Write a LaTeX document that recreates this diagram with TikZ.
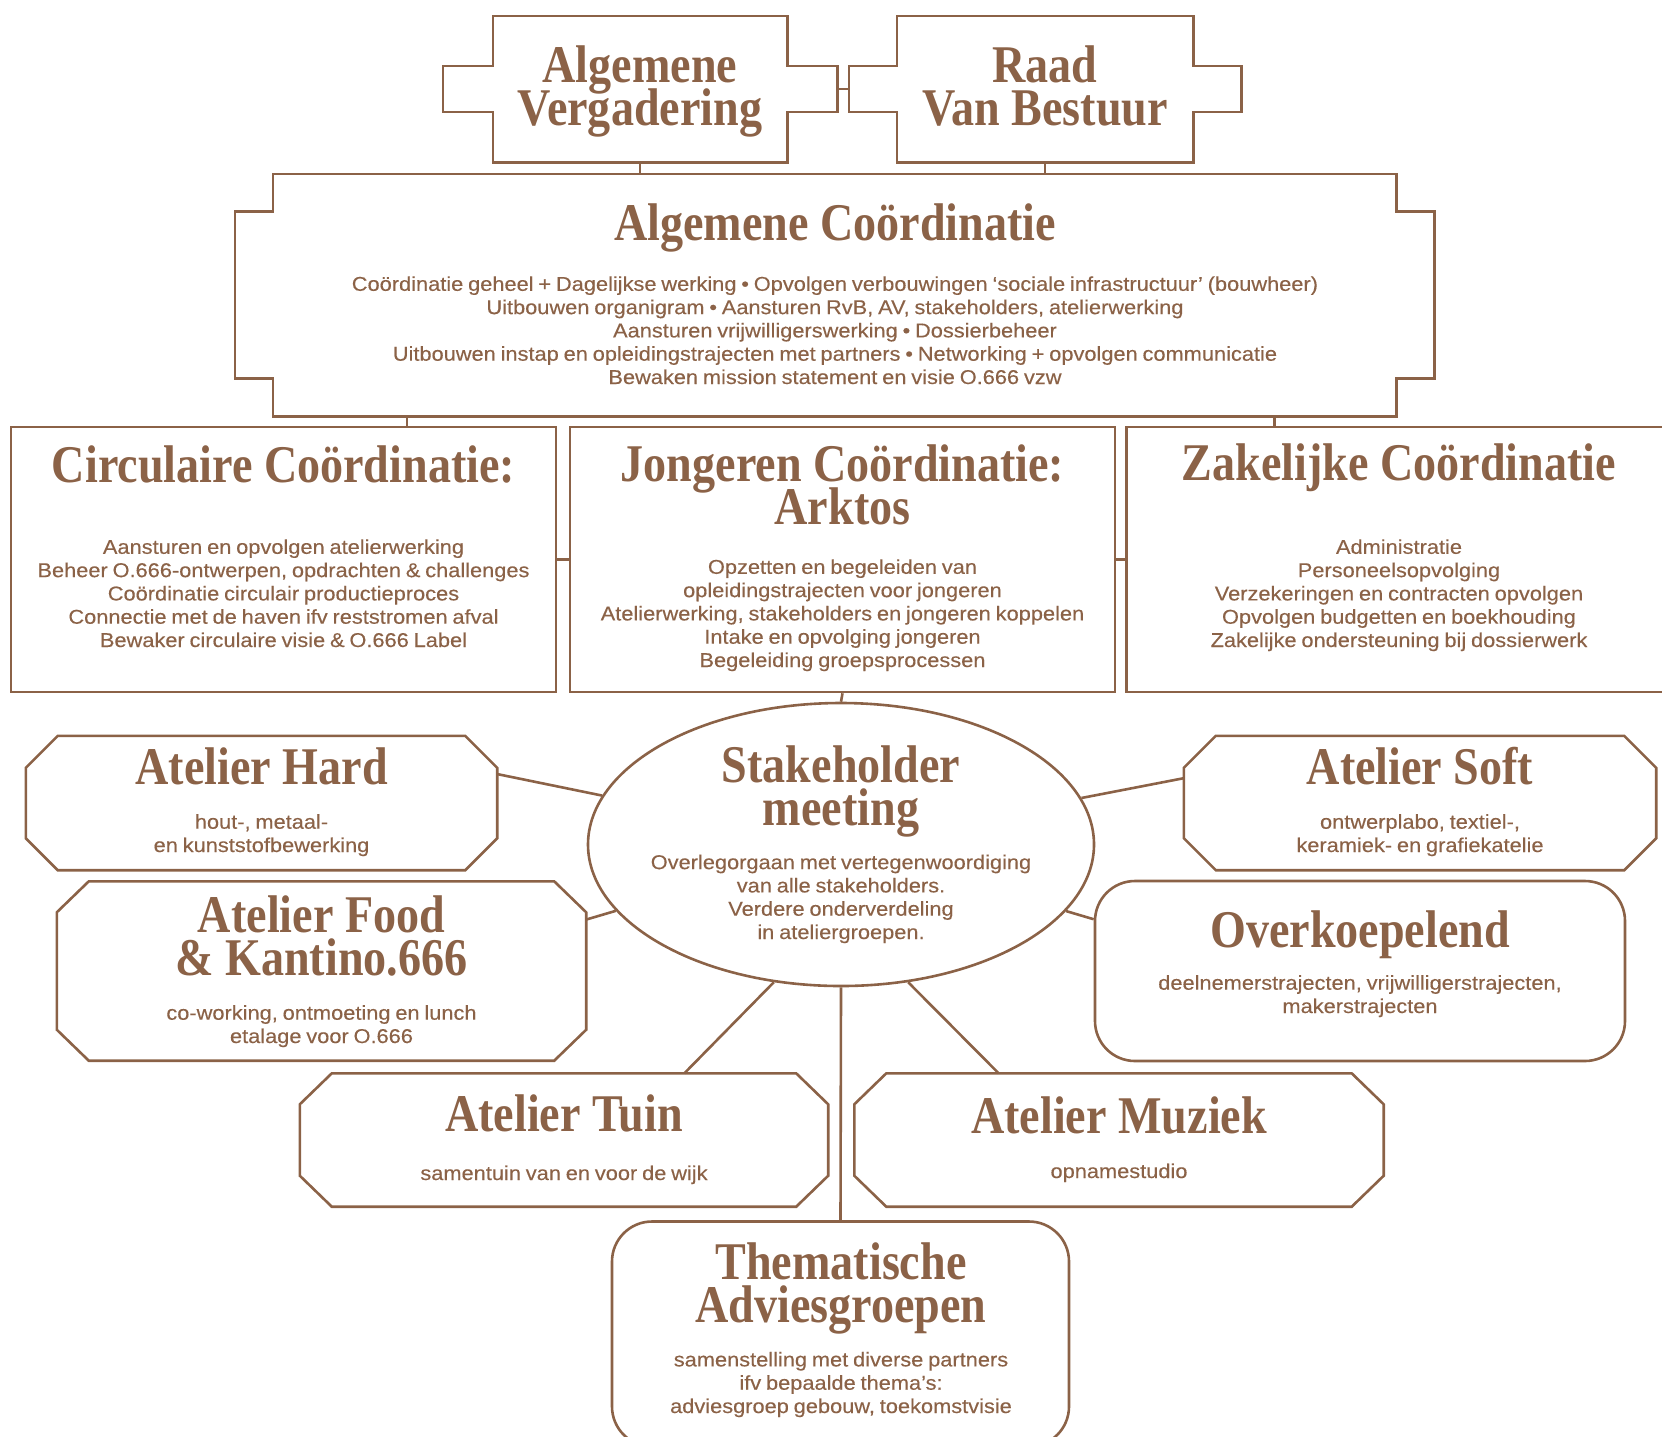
\documentclass[tikz,border=0pt]{standalone}
\usepackage{fontspec}
\setmainfont{Liberation Sans}
\newfontfamily\headfont[FakeStretch=0.87]{Liberation Serif}
\newfontfamily\bodyfont[FakeStretch=1.09,WordSpace=0.8,FakeBold=0.3]{Liberation Sans}
\usetikzlibrary{shapes.geometric}
\definecolor{brun}{RGB}{139,98,71}
\newcommand\vasteregel{\lineskiplimit=-100pt\relax}
% box with a tab on each side: node, tab width, half tab height
\newcommand\tabkader[3]{\draw[lijn] ([xshift=#2]#1.north west) -- ([xshift=-#2]#1.north east) |- ([yshift=#3]#1.east) -- ([yshift=-#3]#1.east) -| ([xshift=-#2]#1.south east) -- ([xshift=#2]#1.south west) |- ([yshift=-#3]#1.west) -- ([yshift=#3]#1.west) -| ([xshift=#2]#1.north west) -- cycle;}
% box with cut corners: node, cut x, cut y
\newcommand\hoekkader[3]{\draw[lijn] ([xshift=#2]#1.north west) -- ([xshift=-#2]#1.north east) -- ([yshift=-#3]#1.north east) -- ([yshift=#3]#1.south east) -- ([xshift=-#2]#1.south east) -- ([xshift=#2]#1.south west) -- ([yshift=#3]#1.south west) -- ([yshift=-#3]#1.north west) -- cycle;}
\begin{document}
\begin{tikzpicture}[x=1pt,y=-1pt,
	lijn/.style={draw=brun,line width=2.6pt},
	blok/.style={rectangle,inner sep=0pt},
	kader/.style={lijn,rectangle,inner sep=0pt,minimum width=545pt,minimum height=265pt},
	rond/.style={lijn,rectangle,rounded corners=40pt,inner sep=0pt},
	kop/.style={text=brun,font={\headfont\bfseries\fontsize{53}{43}\selectfont\vasteregel},align=center,anchor=base,inner sep=0pt},
	tekst/.style={text=brun,font={\bodyfont\fontsize{20}{23.3}\selectfont\vasteregel},align=center,anchor=base,inner sep=0pt}]
	\useasboundingbox (0,0) rectangle (1662,1436);
	% bestuur
	\node[blok,minimum width=394pt,minimum height=146pt] (av) at (640,89) {};
	\node[blok,minimum width=392pt,minimum height=146pt] (rvb) at (1045,89) {};
	\node[blok,minimum width=1199pt,minimum height=242pt] (ac) at (834.5,295) {};
	\tabkader{av}{50pt}{23pt}
	\tabkader{rvb}{48pt}{23pt}
	\tabkader{ac}{38pt}{83.5pt}
	\node[kop] (avkop) at (640,125) {Algemene\\Vergadering};
	\node[kop] (rvbkop) at (1045,125) {Raad\\Van Bestuur};
	\node[kop] (ackop) at (835,240) {Algemene Coördinatie};
	\node[tekst] (actekst) at (835,384) {Coördinatie geheel + Dagelijkse werking • Opvolgen verbouwingen ‘sociale infrastructuur’ (bouwheer)\\Uitbouwen organigram • Aansturen RvB, AV, stakeholders, atelierwerking\\Aansturen vrijwilligerswerking • Dossierbeheer\\Uitbouwen instap en opleidingstrajecten met partners • Networking + opvolgen communicatie\\Bewaken mission statement en visie O.666 vzw};
	% coordinatie
	\node[kader] (circ) at (283.5,559.5) {};
	\node[kader] (jong) at (842.5,559.5) {};
	\node[kader] (zak) at (1399,559.5) {};
	\node[kop] (circkop) at (283.5,482) {Circulaire Coördinatie:};
	\node[tekst] (circtekst) at (283.5,647) {Aansturen en opvolgen atelierwerking\\Beheer O.666-ontwerpen, opdrachten \& challenges\\Coördinatie circulair productieproces\\Connectie met de haven ifv reststromen afval\\Bewaker circulaire visie \& O.666 Label};
	\node[kop] (jongkop) at (842.5,524) {Jongeren Coördinatie:\\Arktos};
	\node[tekst] (jongtekst) at (842.5,667) {Opzetten en begeleiden van\\opleidingstrajecten voor jongeren\\Atelierwerking, stakeholders en jongeren koppelen\\Intake en opvolging jongeren\\Begeleiding groepsprocessen};
	\node[kop] (zakkop) at (1399,480) {Zakelijke Coördinatie};
	\node[tekst] (zaktekst) at (1399,647) {Administratie\\Personeelsopvolging\\Verzekeringen en contracten opvolgen\\Opvolgen budgetten en boekhouding\\Zakelijke ondersteuning bij dossierwerk};
	% stakeholders en ateliers
	\node[lijn,ellipse,inner sep=0pt,minimum width=506pt,minimum height=283pt] (stake) at (841,844.5) {};
	\node[blok,minimum width=471pt,minimum height=134pt] (hard) at (261.5,803) {};
	\node[blok,minimum width=529pt,minimum height=179pt] (food) at (321.5,971) {};
	\node[blok,minimum width=472pt,minimum height=134pt] (soft) at (1420,803) {};
	\node[rond,minimum width=530pt,minimum height=180pt] (overk) at (1360,971) {};
	\node[blok,minimum width=528pt,minimum height=133pt] (tuin) at (564,1140) {};
	\node[blok,minimum width=529pt,minimum height=133pt] (muziek) at (1119,1140) {};
	\node[rond,minimum width=457pt,minimum height=225pt] (them) at (840.5,1334) {};
	\hoekkader{hard}{32pt}{32pt}
	\hoekkader{food}{32pt}{31pt}
	\hoekkader{soft}{32pt}{32pt}
	\hoekkader{tuin}{32pt}{31pt}
	\hoekkader{muziek}{32pt}{31pt}
	\node[kop] (stakekop) at (841,825) {Stakeholder\\meeting};
	\node[tekst] (staketekst) at (841,939) {Overlegorgaan met vertegenwoordiging\\van alle stakeholders.\\Verdere onderverdeling\\in ateliergroepen.};
	\node[kop] (hardkop) at (261.5,784) {Atelier Hard};
	\node[tekst] (hardtekst) at (261.5,852) {hout-, metaal-\\en kunststofbewerking};
	\node[kop] (foodkop) at (321.5,975) {Atelier Food\\\& Kantino.666};
	\node[tekst] (foodtekst) at (321.5,1043) {co-working, ontmoeting en lunch\\etalage voor O.666};
	\node[kop] (softkop) at (1420,784) {Atelier Soft};
	\node[tekst] (softtekst) at (1420,852) {ontwerplabo, textiel-,\\keramiek- en grafiekatelie};
	\node[kop] (overkop) at (1360,947) {Overkoepelend};
	\node[tekst] (overtekst) at (1360,1013) {deelnemerstrajecten, vrijwilligerstrajecten,\\makerstrajecten};
	\node[kop] (tuinkop) at (564,1131) {Atelier Tuin};
	\node[tekst] (tuintekst) at (564,1180) {samentuin van en voor de wijk};
	\node[kop] (muziekkop) at (1119,1133) {Atelier Muziek};
	\node[tekst] (muziektekst) at (1119,1178) {opnamestudio};
	\node[kop] (themkop) at (841,1322) {Thematische\\Adviesgroepen};
	\node[tekst] (themtekst) at (841,1413) {samenstelling met diverse partners\\ifv bepaalde thema’s:\\adviesgroep gebouw, toekomstvisie};
	% verbindingen
	\draw[lijn] (av) -- (rvb);
	\draw[lijn] (av.south) -- (av.south |- ac.north);
	\draw[lijn] (rvb.south) -- (rvb.south |- ac.north);
	\draw[lijn] ([xshift=123.5pt]circ.north) -- ([xshift=123.5pt]circ.north |- ac.south);
	\draw[lijn] ([xshift=-124.5pt]zak.north) -- ([xshift=-124.5pt]zak.north |- ac.south);
	\draw[lijn] (circ) -- (jong);
	\draw[lijn] (jong) -- (zak);
	\draw[lijn] (jong.south) -- (stake.north);
	\draw[lijn] (hard.7) -- (stake);
	\draw[lijn] (food.11) -- (stake);
	\draw[lijn] (soft.174) -- (stake);
	\draw[lijn] (overk.169) -- (stake);
	\draw[lijn] (stake.244) -- (tuin.29);
	\draw[lijn] (stake.296.6) -- (muziek.151);
	\draw[lijn] (stake.south) -- (them.north);
\end{tikzpicture}
\end{document}
